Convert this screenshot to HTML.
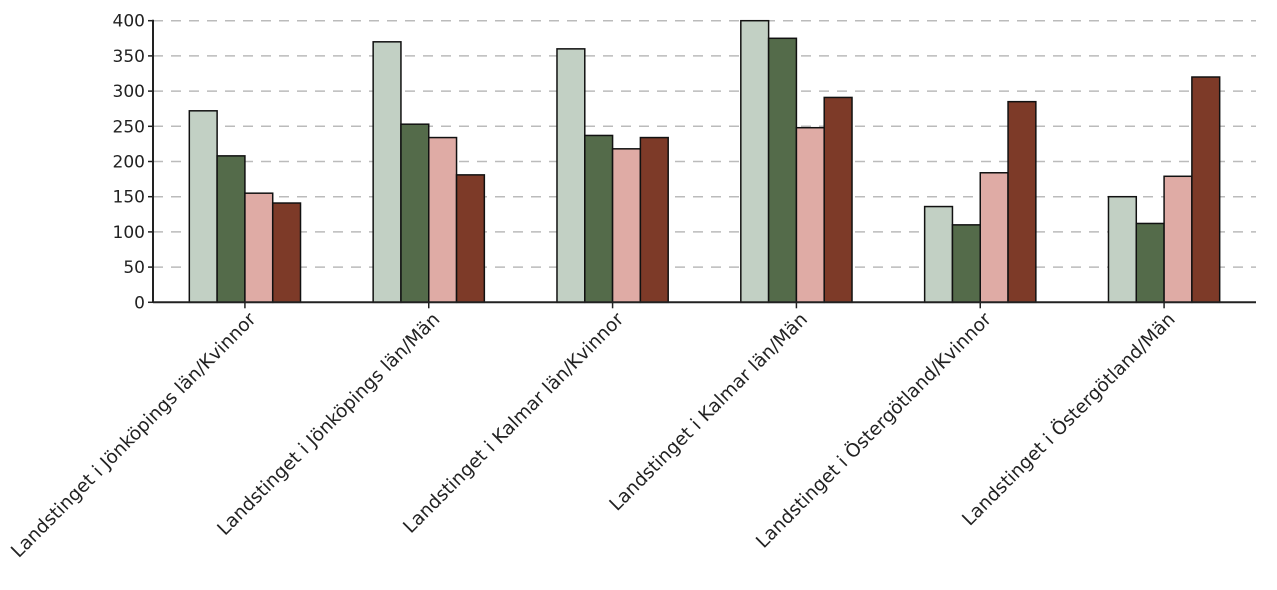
<!DOCTYPE html>
<html><head><meta charset="utf-8"><style>
html,body{margin:0;padding:0;background:#fff;width:1277px;height:590px;overflow:hidden}
text{font-family:"DejaVu Sans","Liberation Sans",sans-serif;fill:#222}
</style></head><body>
<svg id="chart" width="1277" height="590" xmlns="http://www.w3.org/2000/svg"></svg>
<script>
const categories = ["Landstinget i Jönköpings län/Kvinnor","Landstinget i Jönköpings län/Män","Landstinget i Kalmar län/Kvinnor","Landstinget i Kalmar län/Män","Landstinget i Östergötland/Kvinnor","Landstinget i Östergötland/Män"];
const series1 = [272, 370, 360, 400, 136, 150];
const series2 = [208, 253, 237, 375, 110, 112];
const series3 = [155, 234, 218, 248, 184, 179];
const series4 = [141, 181, 234, 291, 285, 320];
const yTicks = [0, 50, 100, 150, 200, 250, 300, 350, 400];
const colors = ["#c2d0c4", "#546b4a", "#dfaba5", "#7d3a28"];
const svg = document.getElementById('chart');
const NS = 'http://www.w3.org/2000/svg';
const x0 = 153, x1 = 1256, y0 = 302.3, yTop = 20.7, yMax = 400;
const y = v => y0 - (v / yMax) * (y0 - yTop);
const band = (x1 - x0) / categories.length;
const barW = 27.8;
function mk(tag, attrs){const e=document.createElementNS(NS,tag);for(const k in attrs)e.setAttribute(k,attrs[k]);svg.appendChild(e);return e;}
yTicks.forEach(t=>{
  if(t>0){const g=mk('line',{x1:x0,x2:x1,y1:y(t),y2:y(t),stroke:'#bbb','stroke-width':1.5,'stroke-dasharray':'10,8'});
  
  }
  const tk=mk('line',{x1:x0-5,x2:x0,y1:y(t),y2:y(t),stroke:'#222','stroke-width':1.5});
  
  
  const lb=mk('text',{x:x0-8,y:y(t)+6,'text-anchor':'end','font-size':17});
  lb.textContent=t;
  
  
});
const allSeries=[series1,series2,series3,series4];
categories.forEach((c,i)=>{
  const cx = x0 + band*(i+0.5);
  allSeries.forEach((s,j)=>{
    const bx = cx - 2*barW + j*barW;
    const r=mk('rect',{x:bx,y:y(s[i]),width:barW,height:y0-y(s[i]),fill:colors[j],stroke:'#111','stroke-width':1.5});
    
    
  });
  const tk=mk('line',{x1:cx,x2:cx,y1:y0,y2:y0+6,stroke:'#222','stroke-width':1.5});
  
  
  const lb=mk('text',{x:cx+12,y:y0+18,'text-anchor':'end','font-size':18.5,transform:`rotate(-45 ${cx+12} ${y0+18})`});
  lb.textContent=c;
  
  
});
const ya=mk('line',{x1:x0,x2:x0,y1:yTop-1,y2:y0,stroke:'#222','stroke-width':2});


const xa=mk('line',{x1:x0,x2:x1,y1:y0,y2:y0,stroke:'#222','stroke-width':2});


</script>
</body></html>
